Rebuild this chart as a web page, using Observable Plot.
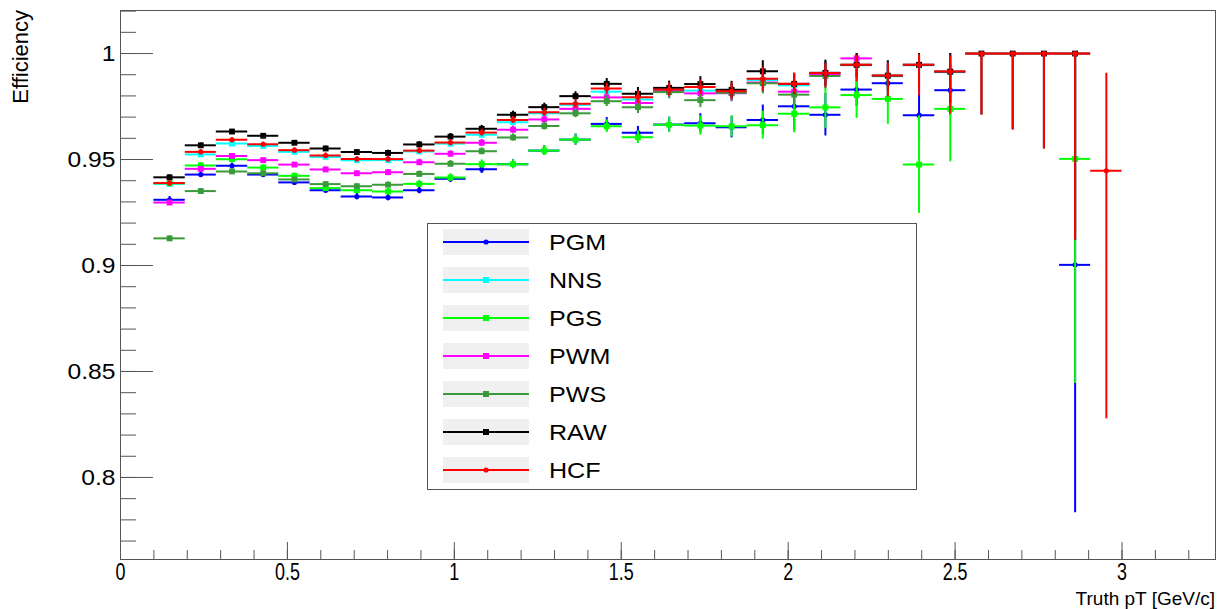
<!DOCTYPE html>
<html><head><meta charset="utf-8">
<script src="https://cdn.jsdelivr.net/npm/d3@7"></script>
<script src="https://cdn.jsdelivr.net/npm/@observablehq/plot@0.6"></script>
<style>body{margin:0;background:#fff}#chart{width:1223px;height:609px}</style>
</head><body><div id="chart"></div><script>
// Histogram bin edges (31 bins, Truth pT in GeV/c)
const binEdges = [0.100,0.194,0.287,0.381,0.474,0.568,0.661,0.755,0.848,0.942,1.035,1.129,1.223,1.316,1.410,1.503,1.597,1.690,1.784,1.877,1.971,2.065,2.158,2.252,2.345,2.439,2.532,2.626,2.719,2.813,2.906,3.000];

const seriesNames = ["PGM","NNS","PGS","PWM","PWS","RAW","HCF"];
const seriesColors = ["#0000ff","#00ffff","#00ff00","#ff00ff","#3a9a3a","#000000","#ff0000"];
const seriesSymbols = ["circle","square","square","square","square","square","circle"];

const PGM = [0.9310,0.9429,0.9470,0.9429,0.9392,0.9355,0.9325,0.9321,0.9355,0.9409,0.9454,0.9478,0.9542,0.9594,0.9668,0.9626,0.9665,0.9671,0.9652,0.9687,0.9751,0.9711,0.9830,0.9860,0.9709,0.9827,null,null,null,0.9003,null];
const NNS = [0.9385,0.9524,0.9575,0.9564,0.9536,0.9512,0.9497,0.9497,0.9538,0.9575,0.9617,0.9676,0.9718,0.9758,0.9820,0.9783,0.9825,0.9825,0.9813,0.9875,0.9850,0.9905,0.9945,0.9893,0.9945,0.9912,null,null,null,null,null];
const PGS = [0.9388,0.9472,0.9501,0.9462,0.9423,0.9365,0.9355,0.9349,0.9385,0.9415,0.9478,0.9478,0.9542,0.9594,0.9657,0.9605,0.9664,0.9660,0.9657,0.9662,0.9716,0.9746,0.9804,0.9786,0.9476,0.9739,null,null,null,0.9503,null];
const PWM = [0.9297,0.9456,0.9517,0.9497,0.9476,0.9453,0.9435,0.9440,0.9487,0.9527,0.9579,0.9641,0.9689,0.9739,0.9793,0.9767,0.9822,0.9812,0.9813,0.9863,0.9820,0.9900,0.9977,null,null,null,null,null,null,null,null];
const PWS = [0.9128,0.9351,0.9444,0.9435,0.9406,0.9384,0.9374,0.9381,0.9432,0.9480,0.9539,0.9604,0.9658,0.9718,0.9775,0.9747,0.9818,0.9780,0.9815,0.9860,0.9806,0.9894,null,null,null,null,null,null,null,null,null];
const RAW = [0.9416,0.9567,0.9632,0.9612,0.9579,0.9552,0.9535,0.9531,0.9571,0.9608,0.9645,0.9711,0.9747,0.9799,0.9857,0.9810,0.9838,0.9856,0.9829,0.9916,0.9857,0.9909,0.9947,0.9896,0.9947,0.9915,1.0,1.0,1.0,1.0,null];
const HCF = [0.9389,0.9536,0.9593,0.9572,0.9544,0.9519,0.9502,0.9502,0.9542,0.9580,0.9627,0.9687,0.9723,0.9763,0.9835,0.9794,0.9830,0.9842,0.9822,0.9881,0.9857,0.9908,0.9947,0.9896,0.9947,0.9915,1.0,1.0,1.0,1.0,0.9447];

// errors (lower; upper is the same, capped at efficiency 1) 
const PGMerr = [0.0015,0.0014,0.0013,0.0013,0.0014,0.0014,0.0015,0.0016,0.0017,0.0018,0.0020,0.0021,0.0023,0.0026,0.0030,0.0030,0.0035,0.0045,0.0050,0.0070,0.0110,0.0100,0.0080,0.0090,0.0120,0.0120,null,null,null,0.1170,null];
const PGSerr = [0.0014,0.0013,0.0012,0.0013,0.0014,0.0015,0.0015,0.0016,0.0017,0.0018,0.0020,0.0021,0.0023,0.0026,0.0030,0.0030,0.0035,0.0045,0.0050,0.0066,0.0090,0.0100,0.0110,0.0120,0.0230,0.0250,null,null,null,0.1060,null];
const commonErr = [0.0012,0.0011,0.0010,0.0010,0.0011,0.0012,0.0012,0.0013,0.0014,0.0015,0.0016,0.0017,0.0019,0.0021,0.0025,0.0030,0.0032,0.0035,0.0040,0.0050,0.0050,0.0060,0.0060,0.0070,0.0120,0.0150,0.0290,0.0360,0.0450,0.0880,null];
const HCFerrLo = [0.0012,0.0011,0.0010,0.0010,0.0011,0.0012,0.0012,0.0013,0.0014,0.0015,0.0016,0.0017,0.0019,0.0021,0.0025,0.0030,0.0032,0.0035,0.0040,0.0060,0.0050,0.0070,0.0080,0.0100,0.0147,0.0200,0.0290,0.0360,0.0450,0.0880,0.1170];
const HCFerrHi = [0.0012,0.0011,0.0010,0.0010,0.0011,0.0012,0.0012,0.0013,0.0014,0.0015,0.0016,0.0017,0.0019,0.0021,0.0025,0.0030,0.0032,0.0035,0.0040,0.0055,0.0050,0.0045,0.0045,0.0060,0.0047,0.0075,0,0,0,0,0.0460];

const xMajorTicks = [0, 0.5, 1, 1.5, 2, 2.5, 3];
const yMajorTicks = [0.8, 0.85, 0.9, 0.95, 1];
const xMinorTicks = d3.range(1, 33).map(k => k / 10);
const yMinorTicks = d3.range(77, 103).map(k => k / 100);

const seriesValues = [PGM, NNS, PGS, PWM, PWS, RAW, HCF];
const seriesErrLo = [PGMerr, commonErr, PGSerr, commonErr, commonErr, commonErr, HCFerrLo];
const seriesErrHi = [PGMerr, commonErr, PGSerr, commonErr, commonErr, commonErr, HCFerrHi];

const rows = [];
seriesNames.forEach((name, s) => {
  seriesValues[s].forEach((v, i) => {
    if (v == null) return;
    const lo = binEdges[i], hi = binEdges[i + 1];
    const eLo = seriesErrLo[s][i] || 0, eHi = seriesErrHi[s][i] || 0;
    rows.push({s, series: name, lo, hi, c: (lo + hi) / 2, v, y1: v - eLo, y2: Math.min(1, v + eHi)});
  });
});

const seriesMarks = seriesNames.flatMap((name, s) => {
  const d = rows.filter(r => r.s === s);
  const col = seriesColors[s];
  return [
    Plot.ruleX(d, {x: "c", y1: "y1", y2: "y2", stroke: col, strokeWidth: 2}),
    Plot.ruleY(d, {y: "v", x1: "lo", x2: "hi", stroke: col, strokeWidth: 2}),
    Plot.dot(d, {x: "c", y: "v", symbol: seriesSymbols[s], r: seriesSymbols[s] === "circle" ? 2.6 : 3.3, fill: col, stroke: "none"})
  ];
});

const plot = Plot.plot({
  width: 1223, height: 609,
  marginLeft: 120, marginRight: 8, marginTop: 10, marginBottom: 50,
  x: {domain: [0, 3.28]},
  y: {domain: [0.7613, 1.0203]},
  style: {fontFamily: "'Liberation Sans', Arial, Helvetica, sans-serif", background: "#fff", color: "#000", overflow: "visible"},
  marks: [
    Plot.axisY(yMinorTicks, {tickSize: -16, tickFormat: () => "", label: null, stroke: "#555"}),
    Plot.axisY(yMajorTicks, {tickSize: -33, tickFormat: () => "", label: null, stroke: "#555"}),
    Plot.axisY(yMajorTicks, {tickSize: 0, tickPadding: 5, tickFormat: d => String(d), label: null, fontSize: 22}),
    Plot.axisX(xMinorTicks, {tickSize: -9, tickFormat: () => "", label: null, stroke: "#555"}),
    Plot.axisX(xMajorTicks, {tickSize: -17, tickFormat: () => "", label: null, stroke: "#555"}),
    Plot.axisX(xMajorTicks, {tickSize: 0, tickPadding: 4, tickFormat: d => String(d), label: null, fontSize: 23}),
    Plot.frame({stroke: "#555", strokeWidth: 1}),
    ...seriesMarks
  ]
});
document.getElementById("chart").appendChild(plot);

const svg = d3.select(plot);
function squeeze(sel, sx) {
  sel.each(function () {
    let t = this.getAttribute("transform");
    if (!t) {
      const x = this.getAttribute("x") || 0, y = this.getAttribute("y") || 0;
      this.setAttribute("x", 0); this.setAttribute("y", 0);
      t = `translate(${x},${y})`;
    }
    this.setAttribute("transform", t + ` scale(${sx},1)`);
  });
}
squeeze(svg.selectAll('g[aria-label="x-axis tick label"] text'), 0.78);
squeeze(svg.selectAll('g[aria-label="y-axis tick label"] text'), 1.12);

// axis titles
svg.append("text").attr("transform", "translate(28,10) rotate(-90)")
  .attr("text-anchor", "end").attr("font-size", 22).attr("fill", "#000").text("Efficiency");
svg.append("text").attr("transform", "translate(1215,605) scale(1.0,1)")
  .attr("text-anchor", "end").attr("font-size", 19).attr("fill", "#000").text("Truth pT [GeV/c]");

// legend box
const lg = svg.append("g").attr("aria-label", "legend");
lg.append("rect").attr("x", 427.5).attr("y", 223.5).attr("width", 489).attr("height", 266)
  .attr("fill", "#fff").attr("stroke", "#555").attr("stroke-width", 1);
seriesNames.forEach((name, s) => {
  const cy = 242 + s * 38;
  lg.append("rect").attr("x", 443).attr("y", cy - 13).attr("width", 86).attr("height", 26).attr("fill", "#f0f0f0");
  lg.append("line").attr("x1", 443).attr("x2", 529).attr("y1", cy).attr("y2", cy)
    .attr("stroke", seriesColors[s]).attr("stroke-width", 2);
  if (seriesSymbols[s] === "circle") {
    lg.append("circle").attr("cx", 486).attr("cy", cy).attr("r", 2.6).attr("fill", seriesColors[s]);
  } else {
    lg.append("rect").attr("x", 483).attr("y", cy - 3).attr("width", 6).attr("height", 6).attr("fill", seriesColors[s]);
  }
  lg.append("text").attr("transform", `translate(549,${cy}) scale(1.14,1)`).attr("dy", "0.36em")
    .attr("text-anchor", "start").attr("font-size", 22).attr("fill", "#000").text(name);
});
</script></body></html>
